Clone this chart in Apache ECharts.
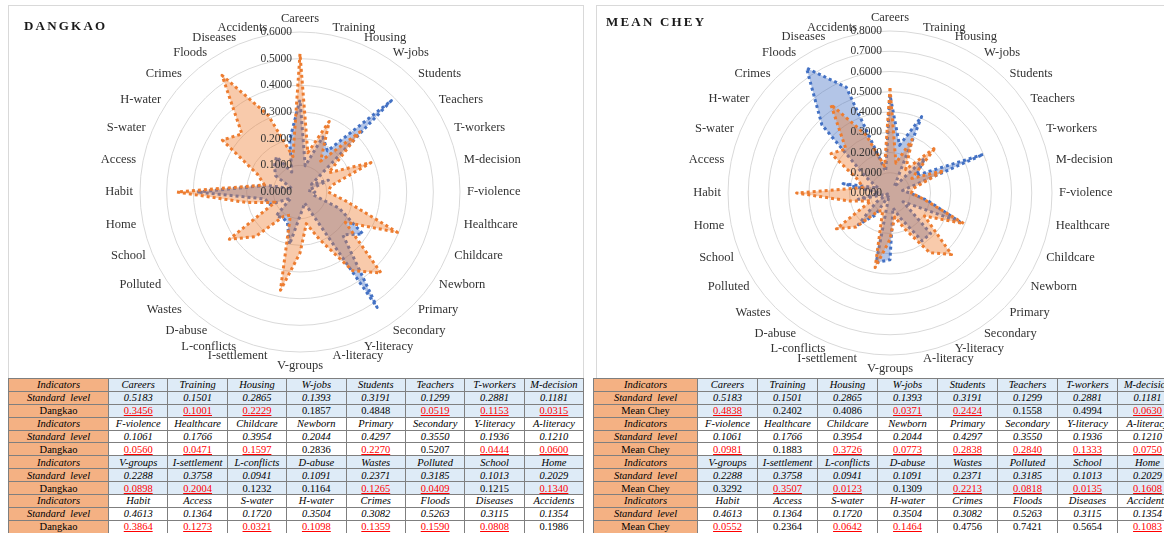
<!DOCTYPE html>
<html>
<head>
<meta charset="utf-8">
<script src="https://cdn.jsdelivr.net/npm/echarts@6/dist/echarts.min.js"></script>
<style>
  html, body { margin: 0; padding: 0; background: #fff; }
  #wrap { position: relative; width: 1164px; height: 533px; overflow: hidden; }
  .box { position: absolute; border: 1px solid #d9d9d9; box-sizing: border-box; }
  .title { position: absolute; font: bold 13px "Liberation Serif", serif; letter-spacing: 2.2px; color: #1a1a1a; }
  #chart { position: absolute; left: 0; top: 0; width: 1164px; height: 378px; }
  table { position: absolute; border-collapse: collapse; table-layout: fixed; }
  td { border: 1px solid #7f7f7f; padding: 0; height: 11.9px; line-height: 10px; text-align: center;
       font: 10.5px "Liberation Serif", serif; white-space: nowrap; overflow: hidden; color: #000; }
  td.head { background: #f4b183; }
  td.it { font-style: italic; }
  td.low { color: #ff0000; text-decoration: underline; }
  tr.blue td { background: #deebf7; }
  tr.blue td.head { background: #f4b183; }
</style>
</head>
<body>
<div id="wrap">
  <div class="box" style="left:8px;top:5px;width:576px;height:374px"></div>
  <div class="box" style="left:596px;top:5px;width:580px;height:374px"></div>
  <div id="chart"></div>
  <div class="title" style="left:24px;top:18px">DANGKAO</div>
  <div class="title" style="left:606px;top:14px">MEAN CHEY</div>
  <table id="t1" style="left:8px;top:378px"></table>
  <table id="t2" style="left:593px;top:378px"></table>
</div>
<script>
// 指标（顺时针，从正上方开始）
const indicators = ["Careers", "Training", "Housing", "W-jobs", "Students", "Teachers", "T-workers", "M-decision",
  "F-violence", "Healthcare", "Childcare", "Newborn", "Primary", "Secondary", "Y-literacy", "A-literacy",
  "V-groups", "I-settlement", "L-conflicts", "D-abuse", "Wastes", "Polluted", "School", "Home",
  "Habit", "Access", "S-water", "H-water", "Crimes", "Floods", "Diseases", "Accidents"];

const standardLevel = [0.5183, 0.1501, 0.2865, 0.1393, 0.3191, 0.1299, 0.2881, 0.1181,
  0.1061, 0.1766, 0.3954, 0.2044, 0.4297, 0.3550, 0.1936, 0.1210,
  0.2288, 0.3758, 0.0941, 0.1091, 0.2371, 0.3185, 0.1013, 0.2029,
  0.4613, 0.1364, 0.1720, 0.3504, 0.3082, 0.5263, 0.3115, 0.1354];

const dangkao = [0.3456, 0.1001, 0.2229, 0.1857, 0.4848, 0.0519, 0.1153, 0.0315,
  0.0560, 0.0471, 0.1597, 0.2836, 0.2270, 0.5207, 0.0444, 0.0600,
  0.0898, 0.2004, 0.1232, 0.1164, 0.1265, 0.0409, 0.1215, 0.1340,
  0.3864, 0.1273, 0.0321, 0.1098, 0.1359, 0.1590, 0.0808, 0.1986];

const meanChey = [0.4838, 0.2402, 0.4086, 0.0371, 0.2424, 0.1558, 0.4994, 0.0630,
  0.0981, 0.1883, 0.3726, 0.0773, 0.2838, 0.2840, 0.1333, 0.0750,
  0.3292, 0.3507, 0.0123, 0.1309, 0.2213, 0.0818, 0.0135, 0.1608,
  0.0552, 0.2364, 0.0642, 0.1464, 0.4756, 0.7421, 0.5654, 0.1083];

const fontFamily = '"Liberation Serif", serif';

// echarts 雷达图是逆时针排列，这里把顺序反过来（保留第一个）
function clockwise(arr) {
  return [arr[0]].concat(arr.slice(1).reverse());
}

function makeRadar(center, radius, max, splitNumber) {
  return {
    center: center,
    radius: radius,
    startAngle: 90,
    shape: "circle",
    splitNumber: splitNumber,
    indicator: clockwise(indicators).map(name => ({ name: name, min: 0, max: max })),
    axisName: { color: "#333", fontFamily: fontFamily, fontSize: 12.5 },
    nameGap: 7,
    axisLine: { show: false },
    axisTick: { show: false },
    axisLabel: { show: false },
    splitLine: { lineStyle: { color: "#d9d9d9", width: 1 } },
    splitArea: { show: false },
  };
}

function makeRadiusAxis(index, max) {
  return {
    polarIndex: index,
    min: 0,
    max: max,
    interval: 0.1,
    z: 10,
    axisLine: { show: false },
    axisTick: { show: false },
    splitLine: { show: false },
    axisLabel: {
      formatter: v => v.toFixed(4),
      fontFamily: fontFamily,
      fontSize: 11.5,
      color: "#333",
      margin: 8,
    },
  };
}

function makeSeries(radarIndex, district) {
  return {
    type: "radar",
    radarIndex: radarIndex,
    symbol: "none",
    silent: true,
    data: [
      {
        value: clockwise(district),
        lineStyle: { color: "#4472c4", width: 3, type: "dotted" },
        areaStyle: { color: "rgba(68,114,196,0.58)" },
      },
      {
        value: clockwise(standardLevel),
        lineStyle: { color: "#ed7d31", width: 3, type: "dotted" },
        areaStyle: { color: "rgba(237,125,49,0.58)" },
      },
    ],
  };
}

const myChart = echarts.init(document.getElementById("chart"));
myChart.setOption({
  animation: false,
  radar: [makeRadar([300, 192], 160, 0.6, 6), makeRadar([890, 193], 162, 0.8, 8)],
  polar: [
    { center: [300, 192], radius: 160 },
    { center: [890, 193], radius: 162 },
  ],
  angleAxis: [
    { polarIndex: 0, startAngle: 90, min: 0, max: 360, show: false },
    { polarIndex: 1, startAngle: 90, min: 0, max: 360, show: false },
  ],
  radiusAxis: [makeRadiusAxis(0, 0.6), makeRadiusAxis(1, 0.8)],
  series: [makeSeries(0, dangkao), makeSeries(1, meanChey)],
});

// 表格
function buildTable(id, name, values, firstW, colW) {
  const t = document.getElementById(id);
  t.style.width = (firstW + colW * 8) + "px";
  let html = "<colgroup><col style='width:" + firstW + "px'>";
  for (let i = 0; i < 8; i++) html += "<col style='width:" + colW + "px'>";
  html += "</colgroup>";
  for (let g = 0; g < 4; g++) {
    const cls = g % 2 === 0 ? "blue" : "";
    const idx = [0, 1, 2, 3, 4, 5, 6, 7].map(k => g * 8 + k);
    html += "<tr class='" + cls + "'><td class='head it'>Indicators</td>" +
      idx.map(i => "<td class='it'>" + indicators[i] + "</td>").join("") + "</tr>";
    html += "<tr class='" + cls + "'><td class='head it'>Standard&nbsp; level</td>" +
      idx.map(i => "<td class='it'>" + standardLevel[i].toFixed(4) + "</td>").join("") + "</tr>";
    html += "<tr class='" + cls + "'><td class='head'>" + name + "</td>" +
      idx.map(i => "<td class='" + (values[i] < standardLevel[i] ? "low" : "") + "'>" + values[i].toFixed(4) + "</td>").join("") + "</tr>";
  }
  t.innerHTML = html;
}

buildTable("t1", "Dangkao", dangkao, 100, 59.4);
buildTable("t2", "Mean Chey", meanChey, 104, 60);
</script>
</body>
</html>
